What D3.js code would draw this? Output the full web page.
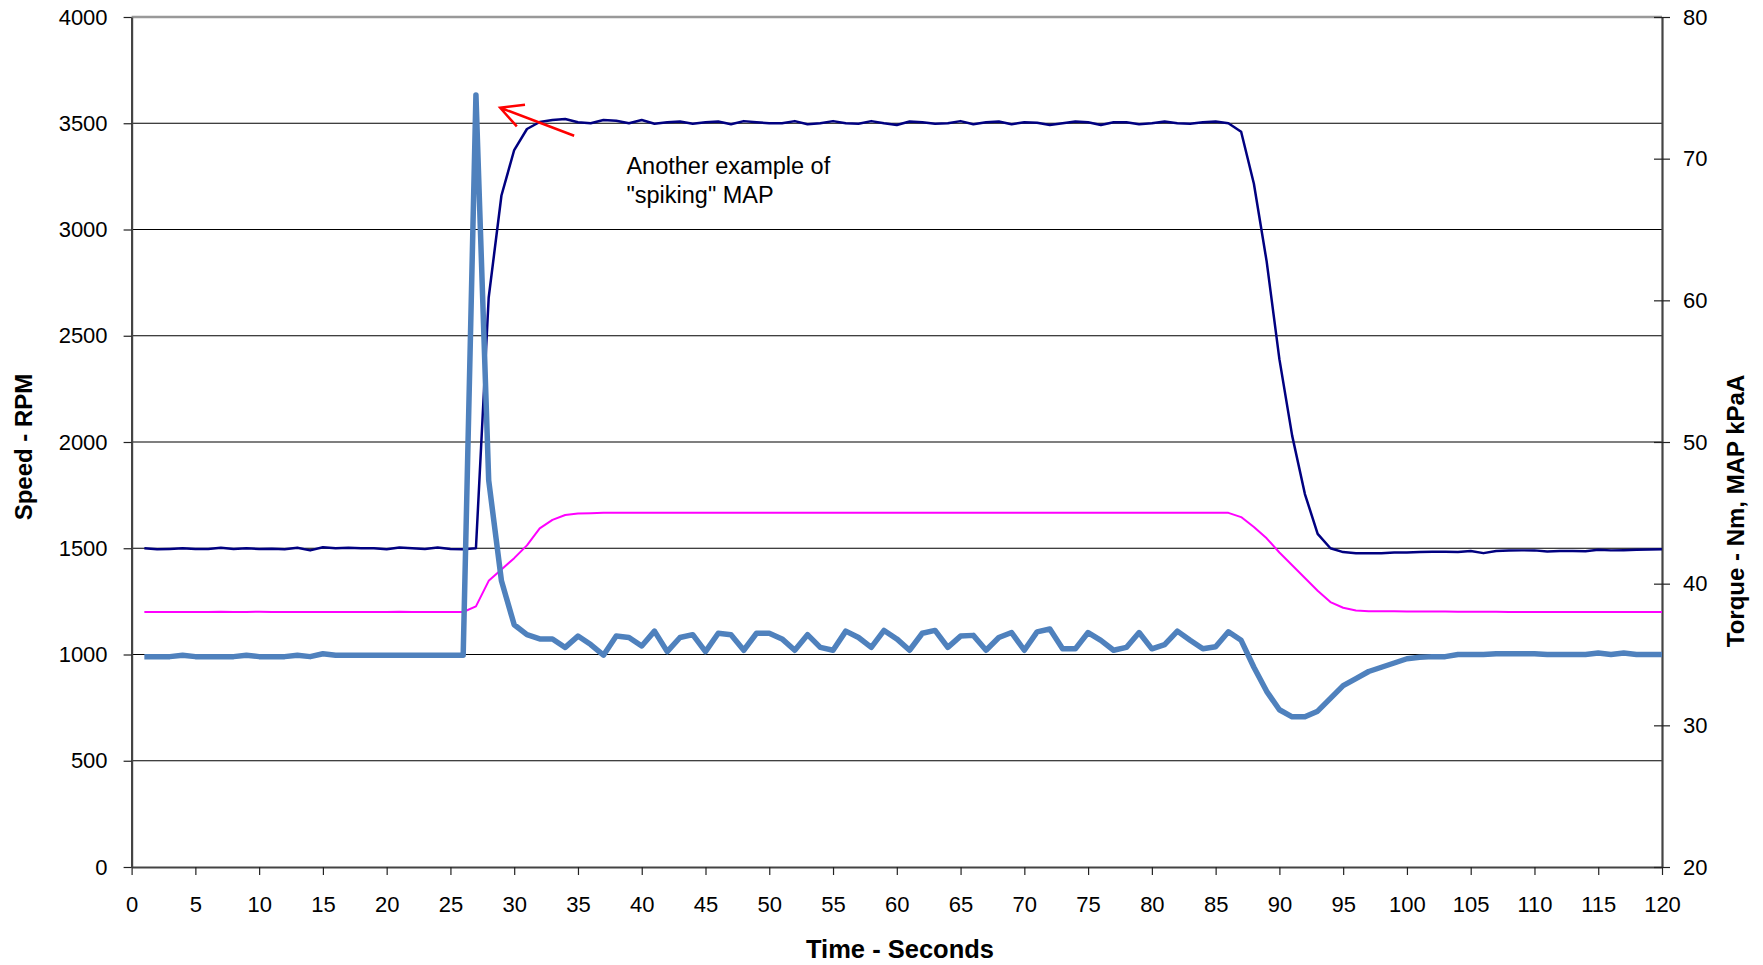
<!DOCTYPE html>
<html>
<head>
<meta charset="utf-8">
<script src="https://cdn.jsdelivr.net/npm/d3@7"></script>
<style>
  body { margin: 0; background: #fff; }
  svg { display: block; font-family: "Liberation Sans", Arial, sans-serif; }
</style>
</head>
<body>
<script>
// time in seconds, 1..120
const seconds = d3.range(1, 121);

// engine speed, RPM (left axis)
const speedRpm = [
  1500, 1495, 1497, 1500, 1497, 1497, 1502, 1497, 1500, 1497,
  1498, 1495, 1502, 1490, 1505, 1500, 1502, 1500, 1500, 1495,
  1503, 1500, 1497, 1503, 1497, 1495, 1500, 2680, 3160, 3374,
  3473, 3506, 3515, 3520, 3505, 3500, 3515, 3512, 3500, 3515,
  3498, 3505, 3508, 3498, 3505, 3508, 3495, 3510, 3505, 3500,
  3500, 3510, 3495, 3500, 3510, 3500, 3498, 3510, 3500, 3492,
  3508, 3505, 3498, 3500, 3510, 3495, 3505, 3508, 3495, 3505,
  3502, 3492, 3500, 3508, 3505, 3492, 3505, 3505, 3495, 3500,
  3508, 3500, 3498, 3505, 3508, 3500, 3460, 3215, 2850, 2390,
  2030, 1755, 1568, 1500, 1482, 1477, 1477, 1477, 1480, 1480,
  1482, 1483, 1484, 1482, 1487, 1477, 1487, 1489, 1490, 1490,
  1485, 1487, 1487, 1486, 1493, 1490, 1491, 1493, 1494, 1495
];

// torque, Nm (right axis)
const torqueNm = [
  38.0, 38.0, 38.0, 38.0, 38.0, 38.0, 38.02, 38.0, 38.0, 38.02,
  38.0, 38.0, 38.0, 38.0, 38.0, 38.0, 38.0, 38.0, 38.0, 38.0,
  38.02, 38.0, 38.0, 38.0, 38.0, 38.0, 38.4, 40.2, 41.0, 41.8,
  42.7, 43.9, 44.5, 44.85, 44.95, 44.97, 45.0, 45.0, 45.0, 45.0,
  45.0, 45.0, 45.0, 45.0, 45.0, 45.0, 45.0, 45.0, 45.0, 45.0,
  45.0, 45.0, 45.0, 45.0, 45.0, 45.0, 45.0, 45.0, 45.0, 45.0,
  45.0, 45.0, 45.0, 45.0, 45.0, 45.0, 45.0, 45.0, 45.0, 45.0,
  45.0, 45.0, 45.0, 45.0, 45.0, 45.0, 45.0, 45.0, 45.0, 45.0,
  45.0, 45.0, 45.0, 45.0, 45.0, 45.0, 44.7, 44.0, 43.2, 42.2,
  41.3, 40.4, 39.5, 38.7, 38.3, 38.1, 38.06, 38.05, 38.05, 38.04,
  38.04, 38.03, 38.03, 38.02, 38.02, 38.02, 38.02, 38.0, 38.0, 38.0,
  38.0, 38.0, 38.0, 38.0, 38.0, 38.0, 38.0, 38.0, 38.0, 38.0
];

// manifold absolute pressure, kPaA (right axis)
const mapKpa = [
  34.85, 34.85, 34.85, 34.95, 34.85, 34.85, 34.85, 34.85, 34.95, 34.85,
  34.85, 34.85, 34.95, 34.85, 35.05, 34.95, 34.95, 34.95, 34.95, 34.95,
  34.95, 34.95, 34.95, 34.95, 34.95, 34.95, 74.5, 47.3, 40.2, 37.1,
  36.4, 36.1, 36.1, 35.5, 36.3, 35.7, 34.95, 36.3, 36.2, 35.6,
  36.65, 35.2, 36.2, 36.4, 35.2, 36.5, 36.4, 35.3, 36.5, 36.5,
  36.1, 35.3, 36.4, 35.5, 35.3, 36.65, 36.2, 35.5, 36.7, 36.1,
  35.3, 36.5, 36.7, 35.5, 36.3, 36.35, 35.3, 36.2, 36.55, 35.3,
  36.6, 36.8, 35.4, 35.4, 36.55, 36.0, 35.3, 35.5, 36.55, 35.4,
  35.7, 36.65, 36.0, 35.4, 35.55, 36.6, 36.0, 34.1, 32.4, 31.1,
  30.6, 30.6, 31.0, 31.9, 32.8, 33.3, 33.8, 34.1, 34.4, 34.7,
  34.8, 34.85, 34.85, 35.0, 35.0, 35.0, 35.05, 35.05, 35.05, 35.05,
  35.0, 35.0, 35.0, 35.0, 35.1, 35.0, 35.1, 35.0, 35.0, 35.0
];

const xTicks = d3.range(0, 121, 5);
const leftTicks = d3.range(0, 4001, 500);
const rightTicks = d3.range(20, 81, 10);

// annotation: arrow from tail to tip, in (seconds, rpm)
const arrowTail = [34.7, 3441];
const arrowTip = [28.9, 3573];
const noteLines = ["Another example of", "\"spiking\" MAP"];
const notePos = [38.8, 3262];

const width = 1763, height = 965;
const plotLeft = 131.6, plotRight = 1662, plotTop = 17, plotBottom = 867;

const x = d3.scaleLinear().domain([0, 120]).range([plotLeft, plotRight]);
const yL = d3.scaleLinear().domain([0, 4000]).range([plotBottom, plotTop]);
const yR = d3.scaleLinear().domain([20, 80]).range([plotBottom, plotTop]);

const svg = d3.select('body').append('svg')
  .attr('width', width)
  .attr('height', height);

// gridlines
svg.append('g')
  .selectAll('line')
  .data(leftTicks.filter(d => d > 0 && d < 4000))
  .join('line')
  .attr('x1', plotLeft).attr('x2', plotRight)
  .attr('y1', d => yL(d)).attr('y2', d => yL(d))
  .attr('stroke', '#000').attr('stroke-width', 1.2);

// plot frame top
svg.append('line')
  .attr('x1', plotLeft).attr('x2', plotRight)
  .attr('y1', plotTop).attr('y2', plotTop)
  .attr('stroke', '#999').attr('stroke-width', 2.5);

// x axis
const xAxis = svg.append('g')
  .attr('transform', `translate(0,${plotBottom})`)
  .call(d3.axisBottom(x).tickValues(xTicks).tickSize(8).tickSizeOuter(0).tickPadding(21));

// left axis
const yAxisL = svg.append('g')
  .attr('transform', `translate(${plotLeft},0)`)
  .call(d3.axisLeft(yL).tickValues(leftTicks).tickFormat(d3.format('d'))
    .tickSize(8).tickSizeOuter(0).tickPadding(16));

// right axis (ticks cross the line)
const yAxisR = svg.append('g')
  .attr('transform', `translate(${plotRight},0)`)
  .call(d3.axisRight(yR).tickValues(rightTicks).tickSize(8).tickSizeOuter(0).tickPadding(13));
yAxisR.selectAll('.tick line').attr('x1', -8);

[xAxis, yAxisL, yAxisR].forEach(g => {
  g.select('.domain').attr('stroke', '#444').attr('stroke-width', 2.2);
  g.selectAll('.tick line').attr('stroke', '#222').attr('stroke-width', 1.2);
  g.selectAll('.tick text')
    .attr('fill', '#000')
    .style('font-family', '"Liberation Sans", Arial, sans-serif')
    .style('font-size', '22px');
});

// series
const lineL = d3.line().x((d, i) => x(seconds[i])).y(d => yL(d));
const lineR = d3.line().x((d, i) => x(seconds[i])).y(d => yR(d));

svg.append('path')
  .datum(speedRpm)
  .attr('d', lineL)
  .attr('fill', 'none')
  .attr('stroke', '#000080')
  .attr('stroke-width', 2.5)
  .attr('stroke-linejoin', 'round');

svg.append('path')
  .datum(torqueNm)
  .attr('d', lineR)
  .attr('fill', 'none')
  .attr('stroke', '#ff00ff')
  .attr('stroke-width', 2)
  .attr('stroke-linejoin', 'round');

svg.append('path')
  .datum(mapKpa)
  .attr('d', lineR)
  .attr('fill', 'none')
  .attr('stroke', '#4f81bd')
  .attr('stroke-width', 5.5)
  .attr('stroke-linejoin', 'round');

// annotation arrow
const tx = x(arrowTail[0]), ty = yL(arrowTail[1]);
const px = x(arrowTip[0]), py = yL(arrowTip[1]);
const ang = Math.atan2(ty - py, tx - px);
const barb = 25, spread = 0.48;
svg.append('path')
  .attr('d', `M${tx},${ty}L${px},${py}` +
    `M${px + barb * Math.cos(ang - spread)},${py + barb * Math.sin(ang - spread)}L${px},${py}` +
    `L${px + barb * Math.cos(ang + spread)},${py + barb * Math.sin(ang + spread)}`)
  .attr('fill', 'none')
  .attr('stroke', '#ff0000')
  .attr('stroke-width', 2.5);

svg.append('text')
  .attr('x', x(notePos[0]))
  .attr('y', yL(notePos[1]))
  .style('font-size', '23.5px')
  .selectAll('tspan')
  .data(noteLines)
  .join('tspan')
  .attr('x', x(notePos[0]))
  .attr('dy', (d, i) => i === 0 ? 0 : 29)
  .text(d => d);

// axis titles
svg.append('text')
  .attr('transform', `translate(32,${(plotTop + plotBottom) / 2 + 5}) rotate(-90)`)
  .attr('text-anchor', 'middle')
  .style('font-size', '24px').style('font-weight', 'bold')
  .text('Speed - RPM');

svg.append('text')
  .attr('transform', `translate(1744,511) rotate(-90)`)
  .attr('text-anchor', 'middle')
  .style('font-size', '24px').style('font-weight', 'bold')
  .text('Torque - Nm, MAP kPaA');

svg.append('text')
  .attr('x', 900)
  .attr('y', 958)
  .attr('text-anchor', 'middle')
  .style('font-size', '25.5px').style('font-weight', 'bold')
  .text('Time - Seconds');
</script>
</body>
</html>
